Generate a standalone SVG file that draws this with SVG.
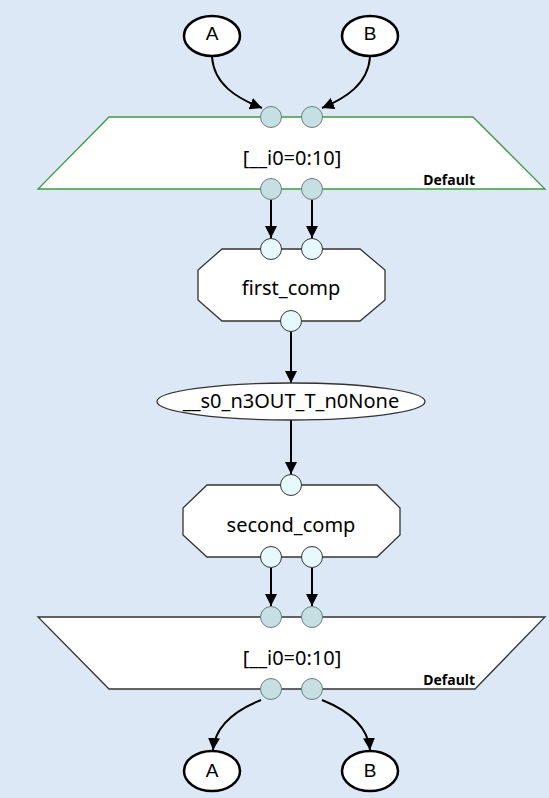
<svg xmlns="http://www.w3.org/2000/svg" width="549" height="798" viewBox="0 0 549 798">
  <style>
    .bg { fill: #dce8f5; }
    .term { fill: #ffffff; stroke: #000000; stroke-width: 2.5; }
    .term-label { font-family: "Liberation Sans", Arial, sans-serif; font-size: 19px; fill: #000; text-anchor: middle; }
    .map-in { fill: #ffffff; stroke: #3f9a3f; stroke-width: 1.3; }
    .map-out { fill: #ffffff; stroke: #333333; stroke-width: 1.3; }
    .tasklet { fill: #ffffff; stroke: #333333; stroke-width: 1.3; }
    .access { fill: #ffffff; stroke: #333333; stroke-width: 1.3; }
    .label { font-family: "Noto Sans", "Open Sans", sans-serif; font-size: 20px; fill: #000; text-anchor: middle; }
    .sched { font-family: "Noto Sans", "Open Sans", sans-serif; font-size: 14px; font-weight: bold; fill: #000; text-anchor: end; }
    .conn-map { fill: #c6dfe2; stroke: #6a7f80; stroke-width: 1; }
    .conn-task { fill: #e6f9fc; stroke: #333333; stroke-width: 1; }
    .edge { fill: none; stroke: #000000; stroke-width: 2; }
  </style>
  <defs>
    <marker id="arrow" viewBox="0 0 10 10" refX="10" refY="5" markerWidth="6" markerHeight="6" markerUnits="strokeWidth" orient="auto">
      <path d="M0,0 L10,5 L0,10 z" fill="#000000"/>
    </marker>
  </defs>

  <rect class="bg" x="0" y="0" width="549" height="798"/>

  <!-- edges -->
  <g id="edges">
    <path class="edge" d="M212,57 C214,84 236,98 262,108" marker-end="url(#arrow)"/>
    <path class="edge" d="M370,57 C368,84 346,98 322,108" marker-end="url(#arrow)"/>
    <path class="edge" d="M271,200 L271,238" marker-end="url(#arrow)"/>
    <path class="edge" d="M312,200 L312,238" marker-end="url(#arrow)"/>
    <path class="edge" d="M291,332 L291,383" marker-end="url(#arrow)"/>
    <path class="edge" d="M291,420 L291,474" marker-end="url(#arrow)"/>
    <path class="edge" d="M271,568 L271,606" marker-end="url(#arrow)"/>
    <path class="edge" d="M312,568 L312,606" marker-end="url(#arrow)"/>
    <path class="edge" d="M261,700 C236,710 215,726 213,750" marker-end="url(#arrow)"/>
    <path class="edge" d="M322,700 C347,710 368,726 370,750" marker-end="url(#arrow)"/>
  </g>

  <!-- source terminals -->
  <g id="in_A">
    <ellipse class="term" cx="212" cy="36" rx="28" ry="20"/>
    <text class="term-label" x="212" y="40">A</text>
  </g>
  <g id="in_B">
    <ellipse class="term" cx="370" cy="36" rx="28" ry="20"/>
    <text class="term-label" x="370" y="40">B</text>
  </g>

  <!-- map entry -->
  <g id="map_entry">
    <polygon class="map-in" points="109,117 473,117 545,189 38,189"/>
    <text class="label" x="292" y="165">[__i0=0:10]</text>
    <text class="sched" x="475" y="185">Default</text>
    <circle class="conn-map" cx="271" cy="117" r="10.5"/>
    <circle class="conn-map" cx="312" cy="117" r="10.5"/>
    <circle class="conn-map" cx="271" cy="189" r="10.5"/>
    <circle class="conn-map" cx="312" cy="189" r="10.5"/>
  </g>

  <!-- first tasklet -->
  <g id="first_comp">
    <polygon class="tasklet" points="222,249 360,249 385,270 385,300 360,321 222,321 198,300 198,270"/>
    <text class="label" x="291" y="295">first_comp</text>
    <circle class="conn-task" cx="271" cy="249" r="10.5"/>
    <circle class="conn-task" cx="312" cy="249" r="10.5"/>
    <circle class="conn-task" cx="291" cy="321" r="10.5"/>
  </g>

  <!-- transient access -->
  <g id="access_s0">
    <ellipse class="access" cx="291" cy="401.5" rx="134" ry="18.5"/>
    <text class="label" x="291" y="408">__s0_n3OUT_T_n0None</text>
  </g>

  <!-- second tasklet -->
  <g id="second_comp">
    <polygon class="tasklet" points="207,485 377,485 400,508 400,535 377,557 207,557 183,535 183,508"/>
    <text class="label" x="291" y="532">second_comp</text>
    <circle class="conn-task" cx="291" cy="485" r="10.5"/>
    <circle class="conn-task" cx="271" cy="557" r="10.5"/>
    <circle class="conn-task" cx="312" cy="557" r="10.5"/>
  </g>

  <!-- map exit -->
  <g id="map_exit">
    <polygon class="map-out" points="38,617 545,617 475,689 109,689"/>
    <text class="label" x="292" y="665">[__i0=0:10]</text>
    <text class="sched" x="475" y="685">Default</text>
    <circle class="conn-map" cx="271" cy="617" r="10.5"/>
    <circle class="conn-map" cx="312" cy="617" r="10.5"/>
    <circle class="conn-map" cx="271" cy="689" r="10.5"/>
    <circle class="conn-map" cx="312" cy="689" r="10.5"/>
  </g>

  <!-- sink terminals -->
  <g id="out_A">
    <ellipse class="term" cx="212" cy="771" rx="28" ry="20"/>
    <text class="term-label" x="212" y="777">A</text>
  </g>
  <g id="out_B">
    <ellipse class="term" cx="370" cy="771" rx="28" ry="20"/>
    <text class="term-label" x="370" y="777">B</text>
  </g>
</svg>
